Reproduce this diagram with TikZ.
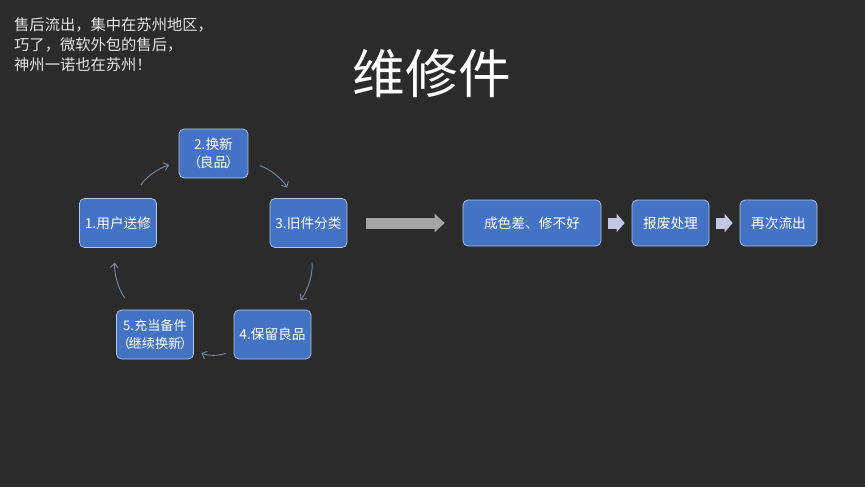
\documentclass[tikz,border=0pt]{standalone}
\usepackage{fontspec}
\setmainfont{Noto Sans CJK SC}
\usetikzlibrary{arrows.meta}
\definecolor{bg}{HTML}{2B2B2B}
\definecolor{boxblue}{HTML}{4472C4}
\definecolor{boxline}{HTML}{B4C7E7}
\definecolor{cycline}{HTML}{7A8AA6}
\definecolor{bigarr}{HTML}{A5A5A5}
\definecolor{smallarr}{HTML}{C6C6E6}
\tikzset{box/.style = {draw = boxline, fill = boxblue, rounded corners = 0.1cm, text = white,
    font = \fontsize{7.8pt}{10pt}\selectfont, align = center, inner sep = 0,
    minimum width = 1.54cm, minimum height = 0.98cm}}
\tikzset{cyc/.style = {draw = cycline, line width = 0.5pt, -{Straight Barb[length = 2.5pt, width = 4.5pt]}}}
\tikzset{blockarr/.style = {line width = 0.22cm, -{Triangle[length = 0.2cm, width = 0.36cm]}}}

\begin{document}
\begin{tikzpicture}[x = 0.02cm, y = -0.02cm]
    \fill [bg] (0, 0) rectangle (865, 487);
    \useasboundingbox (0, 0) rectangle (865, 487);

    \node [anchor = north west, align = left, text = white!90!black,
      font = \fontsize{8.7pt}{11.4pt}\selectfont] (note) at (8, 11)
      {售后流出，集中在苏州地区，\\巧了，微软外包的售后，\\神州一诺也在苏州！};
    \node [text = white, font = \fontsize{30pt}{36pt}\selectfont] (title) at (432, 73) {维修件};

    \node [box] (n1) at (118, 223) {1.用户送修};
    \node [box, minimum width = 1.38cm] (n2) at (213.5, 153.5) {2.换新\\（\kern-0.12em良品\kern-0.12em）};
    \node [box] (n3) at (308.5, 223) {3.旧件分类};
    \node [box] (n4) at (272.5, 334.5) {4.保留良品};
    \node [box, font = \fontsize{7.5pt}{10pt}\selectfont] (n5) at (155, 334.5)
      {5.充当备件\\（\kern-0.12em继续换新\kern-0.12em）};

    \draw [cyc, shorten < = 0.3cm, shorten > = 0.2cm] (n1) to [bend left = 22] (n2);
    \draw [cyc, shorten < = 0.24cm, shorten > = 0.24cm] (n2) to [bend left = 22] (n3);
    \draw [cyc, shorten < = 0.3cm, shorten > = 0.24cm] (n3) to [bend left = 22] (n4);
    \draw [cyc, shorten < = 0.16cm, shorten > = 0.16cm] (n4) to [bend left = 22] (n5);
    \draw [cyc, shorten < = 0.3cm, shorten > = 0.3cm] (n5) to [bend left = 22] (n1);

    \node [box, minimum width = 2.76cm, minimum height = 0.92cm] (bad) at (532, 223) {成色差、修不好};
    \node [box, minimum height = 0.92cm] (scrap) at (670.5, 223) {报废处理};
    \node [box, minimum height = 0.92cm] (resale) at (778.5, 223) {再次流出};

    \draw [blockarr, bigarr, shorten < = 0.38cm, shorten > = 0.36cm] (n3) -- (bad);
    \draw [blockarr, smallarr, -{Triangle[length = 0.16cm, width = 0.36cm]},
      shorten < = 0.14cm, shorten > = 0.14cm] (bad) -- (scrap);
    \draw [blockarr, smallarr, -{Triangle[length = 0.16cm, width = 0.36cm]},
      shorten < = 0.14cm, shorten > = 0.14cm] (scrap) -- (resale);
\end{tikzpicture}
\end{document}
